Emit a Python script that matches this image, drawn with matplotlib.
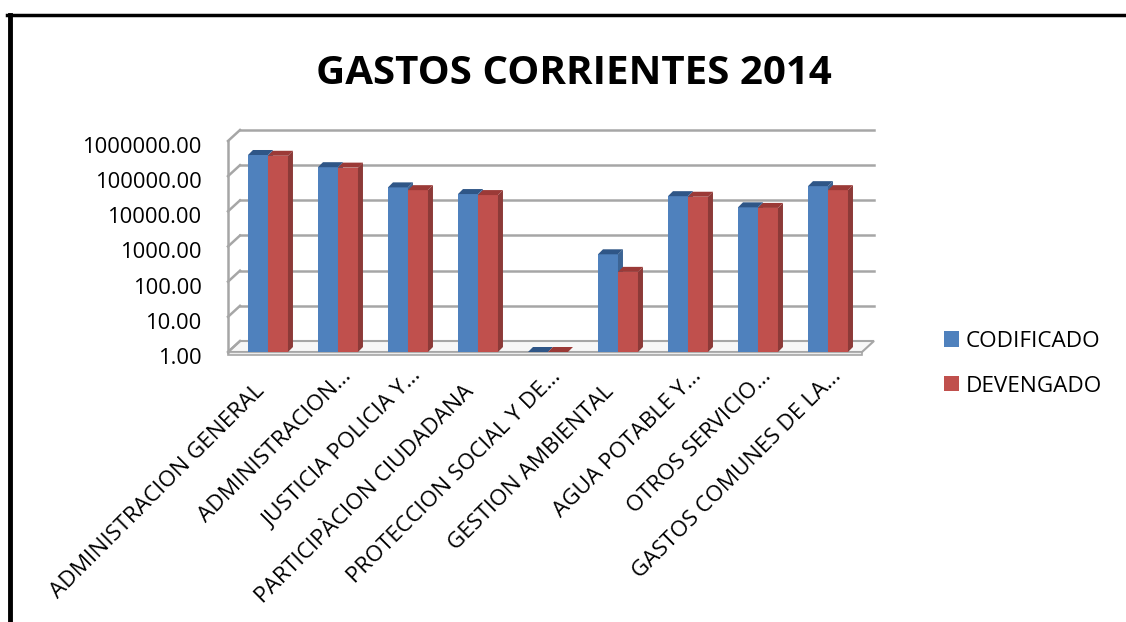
import numpy as np
import matplotlib
matplotlib.use("Agg")
import matplotlib.pyplot as plt
from matplotlib.patches import Polygon, Patch
from matplotlib.lines import Line2D
from matplotlib.transforms import ScaledTranslation

plt.rcParams['font.family'] = ['Open Sans', 'DejaVu Sans']

# data (log scale)
categories = ["ADMINISTRACION GENERAL", "ADMINISTRACION…", "JUSTICIA POLICIA Y…",
              "PARTICIPÀCION CIUDADANA", "PROTECCION SOCIAL Y DE…", "GESTION AMBIENTAL",
              "AGUA POTABLE Y…", "OTROS SERVICIO…", "GASTOS COMUNES DE LA…"]
codificado = [400000, 180000, 48000, 31000, 1.0, 600, 27000, 13000, 52000]
devengado = [380000, 175000, 40000, 29000, 1.0, 190, 26000, 12500, 40000]
yticks = [1, 10, 100, 1000, 10000, 100000, 1000000]
ytick_labels = ["1.00", "10.00", "100.00", "1000.00", "10000.00", "100000.00", "1000000.00"]

W, H = 1126, 622
fig = plt.figure(figsize=(W / 100, H / 100), dpi=100)

# plot area in pixels (front plane)
px_left, px_right, px_front, px_top = 228, 862, 352, 141
ax = fig.add_axes([px_left / W, (H - px_front) / H,
                   (px_right - px_left) / W, (px_front - px_top) / H])
ax.set_yscale('log')
ax.set_ylim(1, 1e6)
ax.set_xlim(-0.571, 8.486)
for s in ax.spines.values():
    s.set_visible(False)
ax.set_yticks(yticks)
ax.set_yticklabels(ytick_labels, fontsize=15.8)
ax.yaxis.set_minor_locator(matplotlib.ticker.NullLocator())
ax.tick_params(axis='y', length=0, pad=19)
ax.tick_params(axis='x', length=0)
ax.set_xticks([])
for t in ax.get_yticklabels():
    t.set_transform(t.get_transform() + ScaledTranslation(0, -0.04, fig.dpi_scale_trans))


def shift(x, y, dx, dy):
    # move a data point by (dx, dy) pixels
    p = ax.transData.transform((x, y)) + np.array([dx, dy])
    return tuple(ax.transData.inverted().transform(p))


x0, x1 = ax.get_xlim()
DX, DY = 12, 11          # wall depth
grid_c = '#a6a6a6'

# floor
fl = [(x0, 1), (x1, 1), shift(x1, 1, DX, DY), shift(x0, 1, DX, DY)]
ax.add_patch(Polygon(fl, closed=True, facecolor='#f7f7f7', edgecolor=grid_c,
                     lw=1.5, clip_on=False, zorder=1))
slab = [(x0, 1), (x1, 1), shift(x1, 1, 0, -3), shift(x0, 1, 0, -3)]
ax.add_patch(Polygon(slab, closed=True, facecolor='#ececec', edgecolor=grid_c,
                     lw=1.2, clip_on=False, zorder=1))

# back wall gridlines + left wall segments
for v in yticks[1:]:
    a = shift(x0, v, DX, DY)
    b = shift(x1, v, DX, DY)
    ax.add_line(Line2D([a[0], b[0]], [a[1], b[1]], color=grid_c, lw=1.8,
                       clip_on=False, zorder=1))
for v in yticks:
    a = shift(x0, v, DX, DY)
    ax.add_line(Line2D([x0, a[0]], [v, a[1]], color=grid_c, lw=1.8,
                       clip_on=False, zorder=1))
ax.add_line(Line2D([x0, x0], [1, 1e6], color=grid_c, lw=1.8, clip_on=False, zorder=1))

# bars
bw = 0.2857
d = 5
faces = [('#4f81bd', '#3c6494', '#2f5687'), ('#c0504d', '#8c3a38', '#9b3a37')]
x = np.arange(len(categories))
z = 3
for i in range(len(categories)):
    for j, vals in enumerate([codificado, devengado]):
        xl = x[i] - bw + j * bw
        xr = xl + bw
        v = vals[i]
        front, side, top = faces[j]
        ax.bar(xl, v - 1, width=bw, bottom=1, align='edge', color=front,
               lw=0, zorder=z)
        ax.add_patch(Polygon([(xr, 1), (xr, v), shift(xr, v, d, d), shift(xr, 1, d, d)],
                             closed=True, facecolor=side, lw=0, zorder=z, clip_on=False))
        ax.add_patch(Polygon([(xl, v), (xr, v), shift(xr, v, d, d), shift(xl, v, d, d)],
                             closed=True, facecolor=top, lw=0, zorder=z, clip_on=False))
        z += 1

# category labels (anchored at the end of the baseline)
for i, lab in enumerate(categories):
    px, py = ax.transData.transform((x[i], 1))
    if lab.endswith('…'):
        ex, ey = px + 14, py - 25
    else:
        ex, ey = px - 3, py - 40
    fig.text(ex / W, ey / H, lab, rotation=45, rotation_mode='anchor',
             ha='right', va='baseline', fontsize=16.2)

fig.text(574 / W, (H - 84) / H, "GASTOS CORRIENTES 2014", ha='center', va='baseline',
         fontsize=29, fontweight='bold')

handles = [Patch(facecolor='#4f81bd'), Patch(facecolor='#c0504d')]
fig.legend(handles, ["CODIFICADO", "DEVENGADO"], loc='upper left',
           bbox_to_anchor=(944 / W, (H - 331) / H), frameon=False, fontsize=16.2,
           handlelength=0.68, handleheight=0.68, handletextpad=0.3, labelspacing=1.05,
           borderpad=0, borderaxespad=0)

# outer frame (left and top only)
fig.add_artist(Line2D([9.5 / W, 9.5 / W], [0, (H - 14.5) / H], color='black', lw=3.5))
fig.add_artist(Line2D([7.5 / W, 1], [(H - 14.5) / H, (H - 14.5) / H], color='black', lw=2.5))

fig.savefig('out.png', dpi=100)
